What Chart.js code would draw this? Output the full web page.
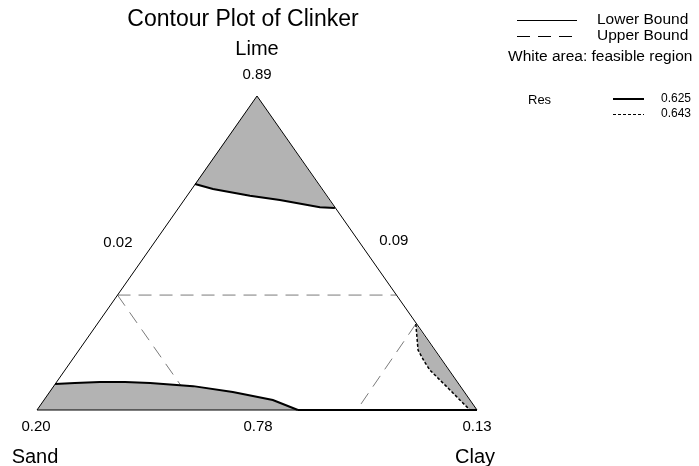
<!DOCTYPE html>
<html>
<head>
<meta charset="utf-8">
<script src="https://cdn.jsdelivr.net/npm/chart.js@4"></script>
<style>
  html, body { margin: 0; padding: 0; background: #fff; }
  #wrap { width: 699px; height: 466px; }
</style>
</head>
<body>
<div id="wrap"><canvas id="c" width="699" height="466"></canvas></div>
<script>
// Plot space: Sand vertex (0,0), Clay vertex (1,0), Lime vertex (0.5,1).
const triangle = [[0, 0], [1, 0], [0.5, 1], [0, 0]];

// Res = 0.625 contour (solid), shaded above it near the Lime vertex
const resTop = [[0.359, 0.720], [0.400, 0.704], [0.484, 0.682], [0.552, 0.669], [0.643, 0.646], [0.677, 0.643]];
// Res = 0.625 contour near the Sand/Clay base
const resBottom = [[0.041, 0.083], [0.086, 0.086], [0.143, 0.089], [0.200, 0.089], [0.257, 0.086], [0.355, 0.076],
  [0.445, 0.057], [0.536, 0.032], [0.593, 0]];
const resBase = [[0.593, 0], [1, 0]];
// Res = 0.643 contour (dotted) near the Clay vertex
const resRight = [[0.861, 0.274], [0.866, 0.191], [0.880, 0.155], [0.893, 0.127], [0.932, 0.073], [0.961, 0.032], [0.984, 0]];

// Upper bounds (dashed)
const limeUpper = [[0.183, 0.366], [0.817, 0.366]];
const sandUpper = [[0.183, 0.366], [0.366, 0]];
const clayUpper = [[0.861, 0.274], [0.727, 0]];

const vertexLabels = [['0.89', 0.5, 1, 0, -21], ['0.20', 0, 0, -1, 17], ['0.78', 0.5, 0, 1, 17], ['0.13', 1, 0, 0, 17]];
const edgeLabels = [['0.02', 0.184, 0.532], ['0.09', 0.811, 0.538]];
const axisNames = [['Lime', 0.5, 1, 0, -47], ['Sand', 0, 0, -2, 47], ['Clay', 1, 0, -2, 47]];

const GRAY = '#b3b3b3';
const BOUND = '#7a7a7a';
const pts = (arr) => arr.map(([x, y]) => ({ x, y }));
const line = (arr, o) => Object.assign({
  data: pts(arr), showLine: true, pointRadius: 0, borderColor: '#000', borderWidth: 1,
  fill: false, clip: false, tension: 0
}, o);
const region = (arr) => line(arr, { fill: 'shape', backgroundColor: GRAY, borderWidth: 0, borderColor: GRAY, order: 10 });

const textPlugin = {
  id: 'texts',
  afterDraw(chart) {
    const { ctx, scales: { x, y } } = chart;
    const font = (s) => s + 'px "Liberation Sans", Arial, sans-serif';
    ctx.save();
    ctx.fillStyle = '#000';
    ctx.textAlign = 'center';
    ctx.textBaseline = 'middle';

    ctx.font = font(23);
    ctx.fillText('Contour Plot of Clinker', 243, 20);

    ctx.font = font(20);
    axisNames.forEach(([t, a, b, dx, dy]) => ctx.fillText(t, x.getPixelForValue(a) + dx, y.getPixelForValue(b) + dy));
    ctx.font = font(15);
    vertexLabels.forEach(([t, a, b, dx, dy]) => ctx.fillText(t, x.getPixelForValue(a) + dx, y.getPixelForValue(b) + dy));
    edgeLabels.forEach(([t, a, b]) => ctx.fillText(t, x.getPixelForValue(a), y.getPixelForValue(b)));

    // legend
    ctx.textAlign = 'left';
    ctx.font = font(15.5);
    ctx.strokeStyle = '#000';
    ctx.lineWidth = 1;
    ctx.beginPath(); ctx.moveTo(517, 20.5); ctx.lineTo(577, 20.5); ctx.stroke();
    ctx.setLineDash([13, 8]);
    ctx.beginPath(); ctx.moveTo(517, 36.5); ctx.lineTo(577, 36.5); ctx.stroke();
    ctx.setLineDash([]);
    ctx.fillText('Lower Bound', 597, 20);
    ctx.fillText('Upper Bound', 597, 36);
    ctx.fillText('White area: feasible region', 508, 57);

    ctx.font = font(13);
    ctx.fillText('Res', 528, 100);
    ctx.lineWidth = 2;
    ctx.beginPath(); ctx.moveTo(613, 99); ctx.lineTo(644, 99); ctx.stroke();
    ctx.lineWidth = 1;
    ctx.setLineDash([3, 2]);
    ctx.beginPath(); ctx.moveTo(613, 114.5); ctx.lineTo(644, 114.5); ctx.stroke();
    ctx.setLineDash([]);
    ctx.font = font(12);
    ctx.fillText('0.625', 661, 99);
    ctx.fillText('0.643', 661, 114);
    ctx.restore();
  }
};

new Chart(document.getElementById('c'), {
  type: 'scatter',
  data: {
    datasets: [
      line(sandUpper, { borderColor: BOUND, borderDash: [13, 8], order: 20 }),
      region([[0.5, 1], ...resTop, [0.5, 1]]),
      region([[0, 0], ...resBottom, [0, 0]]),
      region([...resRight, [1, 0], resRight[0]]),
      line(limeUpper, { borderColor: BOUND, borderDash: [13, 8], order: 5 }),
      line(clayUpper, { borderColor: BOUND, borderDash: [13, 8], order: 5 }),
      line(triangle, { order: 2 }),
      line(resTop, { borderWidth: 2, order: 1 }),
      line(resBottom, { borderWidth: 2, order: 1 }),
      line(resBase, { borderWidth: 2, order: 1 }),
      line(resRight, { borderWidth: 1.5, borderDash: [3, 2], order: 1 })
    ]
  },
  options: {
    responsive: false,
    animation: false,
    layout: { padding: { left: 37, right: 222, top: 96, bottom: 56 } },
    scales: {
      x: { type: 'linear', min: 0, max: 1, display: false },
      y: { type: 'linear', min: 0, max: 1, display: false }
    },
    plugins: { legend: { display: false }, tooltip: { enabled: false } }
  },
  plugins: [textPlugin]
});
</script>
</body>
</html>
